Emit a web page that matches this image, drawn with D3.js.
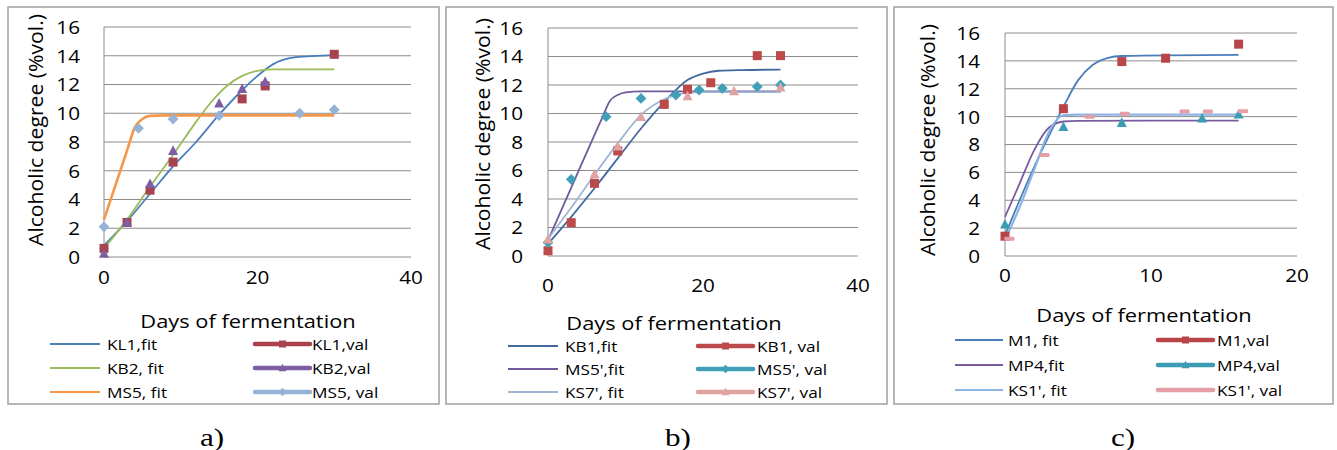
<!DOCTYPE html>
<html>
<head>
<meta charset="utf-8">
<script src="https://cdn.jsdelivr.net/npm/d3@7"></script>
<style>
  html, body { margin: 0; padding: 0; background: #fff; }
  svg { display: block; }
</style>
</head>
<body>
<svg id="chart" width="1337" height="450"></svg>
<script>
"use strict";

// ---- data: [day, %vol] ----
// panel a)
const aKL1Fit = [[0,0.8],[3,2.5],[6,4.4],[9,6.3],[12,8.0],[15,9.9],[18,11.6],[20,12.6],[22,13.4],[25,13.9],[30,14.05]];
const aKB2Fit = [[0,0.6],[3,2.6],[6,4.9],[9,7.1],[12,9.4],[14,10.8],[16,11.9],[18,12.6],[20,12.95],[22,13.05],[30,13.05]];
const aMS5Fit = [[0,2.6],[1,4.2],[2,5.8],[3,7.4],[4,9.0],[5,9.6],[6,9.82],[8,9.85],[30,9.85]];
const aKL1Val = [[0,0.6],[3,2.4],[6,4.65],[9,6.6],[18,11.0],[21,11.9],[30,14.1]];
const aKB2Val = [[0,0.25],[3,2.4],[6,5.1],[9,7.4],[15,10.7],[18,11.7],[21,12.2]];
const aMS5Val = [[0,2.1],[4.5,8.95],[9,9.6],[15,9.83],[25.5,10.0],[30,10.25]];
// panel b)
const bKB1Fit = [[0,0.85],[3,2.75],[6,4.75],[9,6.85],[12,8.95],[15,10.8],[18,12.35],[20,12.8],[22,13.0],[25,13.05],[30,13.08]];
const bMS5Fit = [[0,1.1],[3,4.8],[6,8.5],[7,9.7],[8,10.9],[9,11.3],[10,11.48],[12,11.55],[30,11.55]];
const bKS7Fit = [[0,1.2],[3,3.4],[6,5.7],[9,7.9],[12,9.9],[15,11.0],[18,11.45],[20,11.5],[30,11.5]];
const bKB1Val = [[0,0.37],[3,2.34],[6,5.1],[9,7.37],[15,10.64],[18,11.7],[21,12.16],[27,14.06],[30,14.06]];
const bMS5Val = [[0,0.94],[3,5.38],[7.5,9.78],[12,11.06],[16.5,11.3],[19.5,11.65],[22.5,11.77],[27,11.88],[30,12.0]];
const bKS7Val = [[0,1.17],[6,5.75],[9,7.7],[12,9.78],[18,11.23],[24,11.58],[30,11.84]];
// panel c)
const cM1Fit  = [[0,1.5],[1,4.0],[2,6.4],[3,8.6],[4,10.7],[5,12.6],[6,13.7],[7,14.2],[8,14.35],[16,14.43]];
const cMP4Fit = [[0,2.8],[1,5.2],[2,7.6],[3,9.2],[4,9.65],[5,9.7],[16,9.72]];
const cKS1Fit = [[0,1.15],[1,3.5],[2,6.2],[3,8.9],[4,10.1],[5,10.15],[16,10.15]];
const cM1Val  = [[0,1.42],[4,10.57],[8,13.95],[11,14.19],[16,15.2]];
const cMP4Val = [[0,2.28],[4,9.28],[8,9.57],[13.5,9.88],[16,10.17]];
const cKS1Val = [[0.3,1.23],[2.7,7.24],[5.8,10.0],[8.2,10.2],[12.3,10.36],[13.9,10.36],[16.3,10.38]];

const yTicks = [0, 2, 4, 6, 8, 10, 12, 14, 16];
const xTicksAB = [0, 20, 40];
const xTicksC  = [0, 10, 20];

// ---- layout / style per panel ----
const FONT = "'Open Sans', 'DejaVu Sans', sans-serif";
const SX = 1.15;   // the source figure is horizontally stretched

const panels = [
  {
    box: [8, 7, 439, 404], px: [104, 411], py: [257, 27], xmax: 40, xTicks: xTicksAB,
    yTickRight: 80, xTickY: 277, titleX: 248, titleY: 321, yTitleX: 35, yTitleY: 130,
    rows: [344, 368, 392], left: [50, 100, 107], right: [255, 310, 312],
    caption: 'a)', capX: 212,
    fits: [
      { name: 'KL1,fit',  data: aKL1Fit, color: '#4a7ebb', w: 1.8 },
      { name: 'KB2, fit', data: aKB2Fit, color: '#9bbb59', w: 1.8 },
      { name: 'MS5, fit', data: aMS5Fit, color: '#f79646', w: 2.6 }
    ],
    vals: [
      { name: 'KL1,val',  data: aKL1Val, color: '#a8424f', sym: 'square' },
      { name: 'KB2,val',  data: aKB2Val, color: '#7b5ea4', sym: 'triangle' },
      { name: 'MS5, val', data: aMS5Val, color: '#95b3d7', sym: 'diamond' }
    ]
  },
  {
    box: [446, 7, 887, 404], px: [548, 858], py: [256, 28], xmax: 40, xTicks: xTicksAB,
    yTickRight: 523, xTickY: 285, titleX: 674, titleY: 323, yTitleX: 482, yTitleY: 134,
    rows: [346, 369, 392], left: [508, 558, 565], right: [698, 753, 757],
    caption: 'b)', capX: 678,
    fits: [
      { name: 'KB1,fit',   data: bKB1Fit, color: '#44699f', w: 1.8 },
      { name: "MS5',fit",  data: bMS5Fit, color: '#715a9b', w: 1.8 },
      { name: "KS7', fit", data: bKS7Fit, color: '#9fb6d6', w: 1.8 }
    ],
    vals: [
      { name: 'KB1, val',  data: bKB1Val, color: '#bc4a4a', sym: 'square' },
      { name: "MS5', val", data: bMS5Val, color: '#41a0b8', sym: 'diamond' },
      { name: "KS7', val", data: bKS7Val, color: '#e0a2a2', sym: 'triangle' }
    ]
  },
  {
    box: [894, 7, 1333, 404], px: [1005, 1297], py: [256, 33], xmax: 20, xTicks: xTicksC,
    yTickRight: 980, xTickY: 275, titleX: 1144, titleY: 315, yTitleX: 927, yTitleY: 140,
    rows: [340, 365, 390], left: [955, 1003, 1008], right: [1158, 1213, 1217],
    caption: 'c)', capX: 1123,
    fits: [
      { name: 'M1, fit',   data: cM1Fit,  color: '#4a7ebb', w: 1.8 },
      { name: 'MP4,fit',   data: cMP4Fit, color: '#7a5c9e', w: 1.8 },
      { name: "KS1', fit", data: cKS1Fit, color: '#8eb4e3', w: 2.2 }
    ],
    vals: [
      { name: 'M1,val',    data: cM1Val,  color: '#b94548', sym: 'square' },
      { name: 'MP4,val',   data: cMP4Val, color: '#3b9cb3', sym: 'triangle' },
      { name: "KS1', val", data: cKS1Val, color: '#e39ea6', sym: 'dash' }
    ]
  }
];

const svg = d3.select('#chart');

function stretched(g, x, y, txt, size, anchor, extra) {
  return g.append('text')
    .attr('transform', 'translate(' + x + ',' + y + ') scale(' + SX + ',1)')
    .attr('text-anchor', anchor || 'start')
    .attr('dominant-baseline', 'central')
    .attr('font-family', FONT)
    .attr('font-size', size)
    .attr('fill', extra || '#000')
    .text(txt);
}

function marker(g, sym, x, y, color, s) {
  if (sym === 'square') {
    g.append('rect').attr('x', x - s / 2).attr('y', y - s / 2).attr('width', s).attr('height', s)
      .attr('fill', color);
  } else if (sym === 'triangle') {
    const h = s * 0.95;
    g.append('path').attr('d', 'M' + x + ',' + (y - h / 2 - 1) + 'L' + (x + s / 2 + 0.5) + ',' + (y + h / 2) + 'L' + (x - s / 2 - 0.5) + ',' + (y + h / 2) + 'Z')
      .attr('fill', color);
  } else if (sym === 'diamond') {
    const r = s * 0.6;
    g.append('path').attr('d', 'M' + x + ',' + (y - r) + 'L' + (x + r) + ',' + y + 'L' + x + ',' + (y + r) + 'L' + (x - r) + ',' + y + 'Z')
      .attr('fill', color);
  } else if (sym === 'dash') {
    g.append('rect').attr('x', x - 5).attr('y', y - 2).attr('width', 10).attr('height', 4)
      .attr('rx', 1).attr('fill', color);
  }
}

panels.forEach(p => {
  const g = svg.append('g');

  // panel frame
  g.append('rect')
    .attr('x', p.box[0]).attr('y', p.box[1])
    .attr('width', p.box[2] - p.box[0]).attr('height', p.box[3] - p.box[1])
    .attr('fill', '#fff').attr('stroke', '#a6a6a6').attr('stroke-width', 1.6);

  const x = d3.scaleLinear().domain([0, p.xmax]).range(p.px);
  const y = d3.scaleLinear().domain([0, 16]).range(p.py);

  // gridlines
  g.append('g').selectAll('line').data(yTicks).enter().append('line')
    .attr('x1', p.px[0]).attr('x2', p.px[1])
    .attr('y1', d => y(d)).attr('y2', d => y(d))
    .attr('stroke', '#8c8c8c').attr('stroke-width', 1);
  // y axis line
  g.append('line')
    .attr('x1', p.px[0]).attr('x2', p.px[0]).attr('y1', y(0)).attr('y2', y(16))
    .attr('stroke', '#8c8c8c').attr('stroke-width', 1);

  // tick labels
  yTicks.forEach(t => stretched(g, p.yTickRight, y(t), String(t), 18, 'end'));
  p.xTicks.forEach(t => stretched(g, x(t), p.xTickY, String(t), 18, 'middle'));

  // axis titles
  stretched(g, p.titleX, p.titleY, 'Days of fermentation', 19, 'middle');
  g.append('text')
    .attr('transform', 'translate(' + p.yTitleX + ',' + p.yTitleY + ') rotate(-90)')
    .attr('text-anchor', 'middle').attr('dominant-baseline', 'central')
    .attr('font-family', FONT).attr('font-size', 19.5)
    .attr('textLength', 232).attr('lengthAdjust', 'spacingAndGlyphs')
    .text('Alcoholic degree (%vol.)');

  // fitted curves
  const line = d3.line().x(d => x(d[0])).y(d => y(d[1])).curve(d3.curveMonotoneX);
  p.fits.forEach(f => {
    g.append('path').datum(f.data).attr('d', line)
      .attr('fill', 'none').attr('stroke', f.color).attr('stroke-width', f.w);
  });

  // measured values
  p.vals.forEach(v => {
    const mg = g.append('g');
    v.data.forEach(d => marker(mg, v.sym, x(d[0]), y(d[1]), v.color, 9));
  });

  // legend
  p.fits.forEach((f, i) => {
    const ry = p.rows[i];
    g.append('line').attr('x1', p.left[0]).attr('x2', p.left[1]).attr('y1', ry).attr('y2', ry)
      .attr('stroke', f.color).attr('stroke-width', 2);
    stretched(g, p.left[2], ry, f.name, 15, 'start');
  });
  p.vals.forEach((v, i) => {
    const ry = p.rows[i];
    g.append('line').attr('x1', p.right[0]).attr('x2', p.right[1]).attr('y1', ry).attr('y2', ry)
      .attr('stroke', v.color).attr('stroke-width', 4.5).attr('stroke-linecap', 'round');
    if (v.sym !== 'dash') marker(g, v.sym, (p.right[0] + p.right[1]) / 2, ry, v.color, 7);
    stretched(g, p.right[2], ry, v.name, 15, 'start');
  });

  // caption
  g.append('text')
    .attr('transform', 'translate(' + p.capX + ',437) scale(1.2,1)')
    .attr('text-anchor', 'middle').attr('dominant-baseline', 'central')
    .attr('font-family', "'Liberation Serif', 'DejaVu Serif', serif")
    .attr('font-size', 26)
    .text(p.caption);
});
</script>
</body>
</html>
